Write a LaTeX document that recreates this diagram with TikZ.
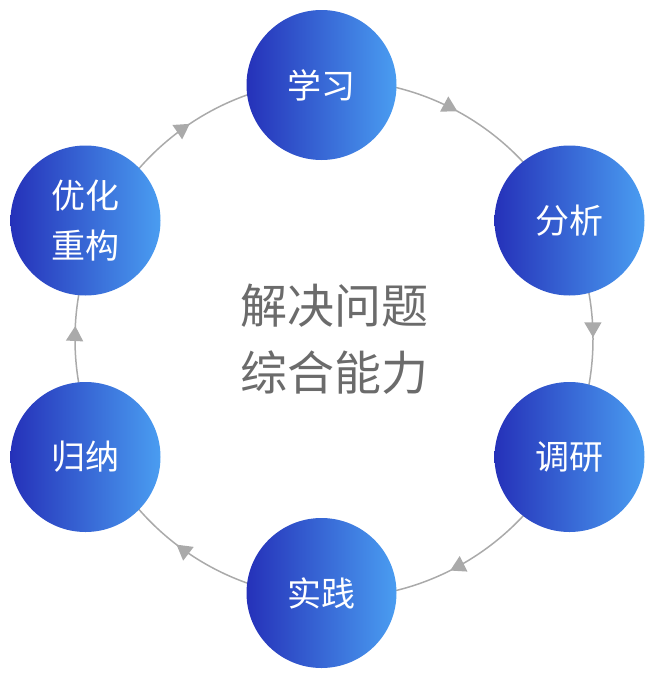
\documentclass[tikz,border=0pt]{standalone}
\usepackage{fontspec}
\newfontfamily\cjk{Noto Sans CJK SC}
\usetikzlibrary{decorations.markings,arrows.meta}
\definecolor{ringgray}{HTML}{AAAAAA}
\definecolor{bluedark}{HTML}{2531B9}
\definecolor{bluelight}{HTML}{4A9DF1}
\definecolor{textgray}{HTML}{6B6B6B}
\begin{document}
\begin{tikzpicture}[x=1pt,y=-1pt,
  stage/.style={circle, minimum size=150pt, inner sep=0pt,
    left color=bluedark, right color=bluelight, text=white,
    font=\cjk\fontsize{34}{50}\selectfont, align=center},
  ringline/.style={draw=ringgray, line width=1.5pt},
  coretext/.style={text=textgray, font=\cjk\fontsize{47}{67}\selectfont, align=center}]
\useasboundingbox (0,0) rectangle (664,686);
\coordinate (ringc) at (334,339);
\draw[ringline, postaction={decorate}, decoration={markings,
    mark=at position 0.079 with {\arrow[ringgray]{Triangle[length=15pt,width=17pt]}},
    mark=at position 0.249 with {\arrow[ringgray]{Triangle[length=15pt,width=17pt]}},
    mark=at position 0.426 with {\arrow[ringgray]{Triangle[length=15pt,width=17pt]}},
    mark=at position 0.604 with {\arrow[ringgray]{Triangle[length=15pt,width=17pt]}},
    mark=at position 0.758 with {\arrow[ringgray]{Triangle[length=15pt,width=17pt]}},
    mark=at position 0.906 with {\arrow[ringgray]{Triangle[length=15pt,width=17pt]}}}]
  ([yshift=259pt]ringc) arc[start angle=90, end angle=-270, radius=259pt];
\node[stage] (xuexi) at (321.5,85) {学习};
\node[stage] (fenxi) at (569.5,220.5) {分析};
\node[stage] (diaoyan) at (569.5,457) {调研};
\node[stage] (shijian) at (321.5,593) {实践};
\node[stage] (guina) at (85.5,457) {归纳};
\node[stage] (youhua) at (85.5,220.5) {优化\\重构};
\node[coretext] (core) at (334,339) {解决问题\\综合能力};
\end{tikzpicture}
\end{document}
